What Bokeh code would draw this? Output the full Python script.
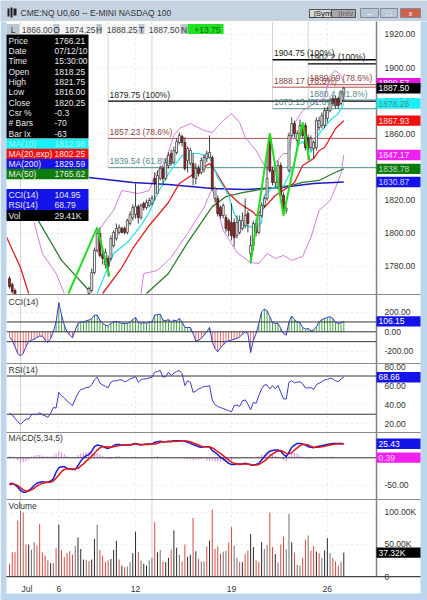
from bokeh.plotting import figure
from bokeh.layouts import column
from bokeh.models import Range1d, FixedTicker, PrintfTickFormatter
from bokeh.core.properties import value
from bokeh.embed import file_html
from bokeh.resources import INLINE

# ---------- chart data ----------
candle_bars = [0, 1, 2] + list(range(29, 123))
c_open = [1772.6,1768.9,1765.3,
 1763.5,1765.3,1776.2,1789.5,1799.8,1787.1,1781,1784.7,1784.7,1792.5,1796.7,1800.4,1802.8,1802.8,1800.4,1805.8,1809.4,1811.2,1816,1809.4,1817.9,1815.5,1816.7,1817.9,1833,1824,1833,1839,1833,1840.8,1848.1,1842.7,1848.7,1854.7,1858.4,1854.7,1843.9,1842.1,1842.1,1833,1839,1836.6,1838.4,1845.1,1845.7,1845.7,1820.9,1820.9,1815.5,1810.6,1809.4,1807.6,1806.4,1806.4,1798.5,1800.4,1802.8,1804.6,1811.8,1787.7,1792.5,1805.8,1800.4,1810.6,1816.7,1820.9,1857.8,1837.8,1830.6,1827.5,1840.8,1822.7,1813.7,1837.8,1859,1866.2,1856,1860.2,1865,1865,1857.8,1851.7,1851.1,1851.7,1863.8,1865,1865,1869.2,1874.1,1881.3,1881.3,1881.3,1878.3,1884.3]
c_high = [1773.8,1770.1,1766.5,
 1767.7,1778.6,1791.3,1802.2,1803.4,1789.5,1790.7,1786.5,1798.5,1801.6,1805.8,1805.2,1804,1804,1808.8,1813.1,1817.3,1830,1817.3,1817.9,1819.1,1820.3,1821.5,1822.7,1836.6,1837.8,1840.8,1840.8,1845.1,1848.7,1850.5,1852.3,1857.2,1860.8,1859.6,1857.8,1852.3,1851.7,1848.1,1842.1,1840.8,1845.7,1847.5,1849.9,1859,1846.9,1828.1,1822.7,1816.7,1817.9,1811.2,1808.8,1817.9,1808.8,1810.6,1810.6,1812.5,1820.9,1813.7,1798.5,1807.6,1808.8,1812.5,1818.5,1822.1,1849.9,1860.2,1839.9,1840.8,1843.9,1842.7,1824.5,1816.1,1860.8,1869.9,1868,1862,1868.6,1866.8,1866.8,1859.6,1859,1855.9,1869.9,1870.4,1872.9,1875.9,1876.5,1881.9,1883.1,1883.1,1882.5,1886.2,1888.25]
c_low = [1766.5,1763.5,1758.7,
 1762.3,1764.1,1775,1788.3,1785.3,1781,1778.6,1773.8,1783.5,1791.3,1795.5,1799.2,1799.8,1799.2,1799.2,1804.6,1807.6,1808.8,1805.8,1808.2,1813.7,1814.3,1815.5,1816.7,1819.7,1824,1831.8,1828.8,1831.8,1839,1840.8,1841.5,1847.5,1853.5,1852.3,1837.8,1836.6,1840.8,1828.8,1829.4,1834.2,1835.4,1836.6,1842.7,1845.1,1825.7,1818.5,1810,1808.8,1808.8,1800.4,1798,1795.5,1791.9,1796.7,1799.2,1801.6,1802.8,1800.4,1781.6,1789.5,1798,1799.2,1809.4,1815.5,1819.7,1836.6,1828.8,1827.5,1826.3,1821.5,1810.6,1811.8,1836.6,1857.8,1857.8,1852.9,1857.8,1857.2,1849.9,1843.9,1849.9,1845.1,1849.9,1862,1863.2,1863.2,1866.8,1872.9,1876.5,1875.3,1875.3,1877.1,1880.1]
c_close = [1767.7,1764.7,1759.9,
 1766.5,1776.2,1789.5,1799.8,1786.5,1784.7,1788.3,1779.8,1796.7,1800.4,1802.8,1803.4,1800.4,1800.4,1807.6,1811.2,1815.5,1816,1809.4,1816.7,1815.5,1818.5,1819.7,1820.9,1830.6,1834.8,1839,1833,1842.7,1846.9,1842.1,1849.9,1855.3,1859,1854.7,1839,1851.1,1849.9,1833.6,1839,1836,1843.9,1845.7,1848.1,1848.7,1827,1827,1811.8,1810.6,1816.7,1802.8,1801.6,1798.5,1797.3,1806.4,1807.6,1807.6,1810.6,1805.8,1792.5,1805.8,1800.4,1810.6,1816.7,1820.9,1833,1837.8,1830.6,1839,1840.8,1822.7,1814.9,1814.9,1859,1866.2,1860.2,1860.2,1865,1859,1851.7,1851.1,1857.2,1854.7,1868,1868,1871,1874.1,1874.1,1880.1,1878.3,1877.1,1877.1,1885,1887.5]

ma10_bars = [32,38,43,48,51,54,58,63,66,69,71,73,76,80,82,84,85,90,92,93,96,100,104,105,107,110,113,117,120,122]
ma10_vals = [1763.5,1787.7,1794.3,1804.6,1812.5,1823.9,1836,1846.9,1848.1,1848.1,1846.9,1845.7,1833.6,1822.7,1811.8,1806.4,1805.2,1802.8,1806.4,1822.7,1827.5,1828.1,1842.1,1852.9,1855.3,1848.7,1860.2,1868,1872.2,1878.28]
ma20_old_bars = [-1,4,7]
ma20_old_vals = [1797.3,1779.2,1763.5]
ma20_bars = [34,41,45,51,58,62,68,73,75,80,84,89,90,93,97,101,104,107,111,113,115,119,122]
ma20_vals = [1763.5,1779.2,1790.7,1804.6,1818.5,1830,1836.6,1842.1,1837.8,1823.9,1817.9,1812.5,1810.6,1815.5,1822.7,1827,1830.6,1840.8,1845.1,1849.9,1851.7,1863.2,1867.93]
ma50_old_bars = [9,19,29]
ma50_old_vals = [1811.8,1783.5,1765.3]
ma50_bars = [50,58,65,74,79,85,94,103,107,113,118,122]
ma50_vals = [1763.5,1775.6,1794.3,1816,1822.1,1824.5,1827,1828.8,1830.6,1831.8,1836,1838.78]
ma200_bars = [29,45,58,74,86,99,111,122]
ma200_vals = [1833.6,1830.6,1829.4,1827,1826.3,1827.5,1830,1830.87]
bb_up_old_bars = [9,12,17,20]
bb_up_old_vals = [1806.4,1787.7,1775.6,1763.5]
bb_up_bars = [33,38,41,47,51,53,57,60,62,66,71,74,78,81,84,86,90,93,95,97,100,102,104,107,115,117,119,121,122]
bb_up_vals = [1802.8,1813.7,1825.7,1823.9,1825.7,1834.8,1843.9,1859,1863.2,1866.2,1862,1860.8,1868,1872.2,1866.8,1857.8,1849.9,1840.8,1837.2,1842.1,1848.1,1848.1,1866.2,1874.1,1881.9,1895.2,1898.2,1895.2,1890.57]
bb_lo_bars = [48,49,54,59,65,71,74,78,81,83,88,91,94,97,100,103,107,110,113,117,119,121,122]
bb_lo_vals = [1763.5,1775.6,1777.4,1785.3,1799.8,1815.5,1827,1801.6,1793.7,1788.3,1782.2,1781.6,1787.7,1784.7,1786.5,1783.5,1785.9,1797.3,1813.7,1819.7,1827.5,1836,1847.17]
zig_a_bars = [21.5,32,36.5]
zig_a_vals = [1763.5,1803.4,1773.8]
zig_b_bars = [88,95,100,107,109.5]
zig_b_vals = [1782.2,1860.2,1810.6,1866.8,1843.9]

fib_bars = [36,36,36,96,96,96,109,109,109]
fib_vals = [1879.75,1857.23,1839.54,1904.75,1888.17,1875.15,1902.2,1889.69,1880.4]
fib_pcts = ["100%","78.6%","61.8%"]*3
fib_kinds = [0,1,2]*3

volume = [19.8,38,38,87.4,103,100,50,50,41.6,53.6,
 48.4,82,38,32.8,25,20.8,20.8,44,81,41.6,
 30,37,39.5,34,48,61,43,26.5,26,24,
 26.5,59,81,41.6,32.8,22.4,25,27.5,41.6,56,
 26.5,17,14.5,15.6,22.4,36.4,70,38,25,19.8,
 17,25,29,85,38,41.6,23.4,22.4,29,41.6,
 72,45,33.8,23.4,50,31,34,91.5,39.5,27.5,
 23.4,23.4,47,56,104.5,43,47,36,39,40,
 53,77,48,29,22.4,22.4,35,40.5,66.5,46,
 25,22.4,53.6,43,49,100,46,35,22,50,
 62.4,43,98,53.6,37,18,17,29,57.7,64,
 40.5,47.8,39,36.4,29,41,60,36.4,29,23.4,
 17,23.4,37.32]
vol_kind = ("rrrrgrrkgg" "rrrrrkgrkr" "rrrrgkkkgr" "kkgrrrrkkk" "rkrggkkrgk" "kggrkgrkkr"
            "kkgrrkkrkr" "ggrkrrrrgg" "rrggrkrrkk" "rrkggrrkgr" "rggkrggrrg" "rrkrgkkgrr" "rgk")

cci = [-50,-85,-152,-220,-244,-220,-152,-100,-85,-75,
 -58,-44,-44,-85,-108,-68,0,100,295,170,
 68,0,-34,-60,17,85,100,100,112,119,
 135,170,170,119,85,68,58,85,100,105,
 100,85,85,85,100,125,146,95,85,95,
 85,100,100,170,176,180,119,112,125,100,
 119,112,135,100,44,44,44,-17,-92,-85,
 -68,-34,0,44,-100,-170,-203,-160,-135,-100,
 -92,-85,-75,-68,-51,-27,0,-17,-210,-85,
 -17,85,203,230,214,153,95,85,85,34,
 -17,-34,100,160,125,100,92,44,27,34,
 10,17,51,100,125,135,146,153,135,95,
 85,92,106.15]
rsi = [31,29.5,25.6,22.4,19.6,22,25,25,29.5,30,
 29.5,31.6,29.5,28.4,26.7,31,37,36.5,53,49.5,
 47,44,41.4,39,46,52,55.8,56.5,58,58,
 61,66,68.8,62.5,60.7,59.3,57.5,63.5,65,65,
 66,66,63.9,65,67,68,69.5,63.5,66,67,
 67,68,68.8,74,74.7,75.8,68.8,69.5,74,70.5,
 73,74.7,75.8,72.3,60,65,63.5,53,54,56.5,
 57.5,59.3,59,60,45,40,38,37,36,34.7,
 33.7,32.6,39,39.6,38.2,44,45,40.7,34.7,42.4,
 41.4,49.5,56.5,60.7,60.7,56.5,60,56.5,60,53,
 46,46,63.5,65,62.8,63.5,64,61.8,57.5,57.5,
 58,56,61,62.5,64,66,66.3,67.7,67,65,
 64,67,68.66]
macd_fast = [-47,-46,-49,-53,-59,-62,-62,-59,-55,-50,
 -46,-44,-43,-44,-44,-42,-38,-26,-18,-16,
 -16,-19,-20,-21,-21,-14,-6,0,4,6,
 12,20,23,22,21,18,17,19,22,24,
 24,23,23,23,23,25,26,24,23,24,
 25,25,25,28,29,30,29,29,30,30,
 31,31,31,31,30,28,26,24,22,20,
 19,20,20,20,13,10,6,1,-2,-6,
 -10,-12,-12,-11,-11,-11,-10,-11,-13,-13,
 -12,-10,-4,2,8,12,13,14,14,12,
 6,2,10,19,23,26,26,25,23,20,
 19,18,20,21,22,23,24,25,26,26,
 26,26,25.43]
macd_signal = [-49,-47,-48,-50,-54,-58,-60,-60,-58,-55,
 -51,-48,-46,-45,-44,-44,-42,-37,-31,-25,
 -21,-20,-20,-20,-20,-19,-15,-11,-6,-2,
 3,8,14,18,20,20,20,19,20,21,
 22,23,23,23,23,24,25,25,24,24,
 24,24,25,25,26,28,29,29,29,29,
 30,30,30,31,31,30,29,27,25,23,
 21,20,20,20,18,15,11,8,4,0,
 -4,-8,-10,-11,-12,-11,-11,-11,-12,-13,
 -13,-12,-9,-6,-2,3,7,10,12,13,
 11,8,7,9,14,18,22,24,24,23,
 21,19,19,19,20,21,22,23,24,25,
 25,25,25]
macd_hist = [3,2,2,-4,-8,-8,-6,-3,2,4,
 5,5,4,3,3,2,4,8,12,10,
 6,3,1,1,-1,5,8,9,10,10,
 9,10,9,6,3,0,-2,-2,1,3,
 3,2,1,0,1,2,2,-1,-1,0,
 1,1,1,2,3,2,1,1,1,1,
 1,1,1,-1,-2,-3,-3,-4,-3,-3,
 -2,-1,-5,-5,-5,-7,-6,-7,-6,-8,
 -7,-6,-2,-1,-1,0,1,0,-1,0,
 1,3,5,6,8,9,6,4,2,1,
 -4,-6,3,10,9,8,4,1,-1,-3,
 -2,-1,1,2,2,2,2,2,2,1,
 1,1,0.39]

date_bars = [18, 46, 81, 116]
date_labels = ["6", "12", "19", "26"]
price_ticks = [1780, 1800, 1820, 1840, 1860, 1880, 1900, 1920]
cci_ticks = [-200, 0, 200]
rsi_ticks = [20, 40, 60, 80]
macd_ticks = [-50, 0]
vol_ticks = [0, 50, 100]
vol_tick_labels = ["0", "50.00K", "100.00K"]

title_text = "CME:NQ U0,60 -- E-MINI NASDAQ 100"
quote_names = ["L", "O", "H", "T", "N"]
quote_values = ["1866.00", "1874.25", "1888.25", "1887.50", "+13.75"]
info_names = ["Price","Date","Time","Open","High","Low","Close","Csr %","# Bars","Bar Ix"]
info_values = ["1766.21","07/12/10","15:30:00","1818.25","1821.75","1816.00","1820.25","-0.3","-70","-63"]
ma_names = ["MA(10)","MA(20,exp)","MA(200)","MA(50)"]
ma_values = ["1812.98","1802.25","1829.59","1765.62"]
osc_names = ["CCI(14)","RSI(14)","Vol"]
osc_values = ["104.95","68.79","29.41K"]

price_tags = [(1890.57,"1890.57","#e812e8","#ffffff"),(1887.50,"1887.50","#000000","#ffffff"),
              (1878.28,"1878.28","#19f0f5","#5a8a90"),(1867.93,"1867.93","#f01010","#ffe0e0"),
              (1847.17,"1847.17","#f020f0","#ffe0ff"),(1838.78,"1838.78","#0c7c0c","#c0d8c0"),
              (1830.87,"1830.87","#1414e8","#d0d0ff")]

# ---------- look and layout ----------
FONT = "Liberation Sans"
FS = "8.5px"
W = 427
LEFT_PAD = 6
RIGHT_PAD = 51
FRAME = "#bcd6ee"
SEP = "#8a8a8a"
X0, X1 = -1.095, 133.94
XR = Range1d(X0, X1)

def pane(height, y_top, y_bot, ticks, fmt="%.2f", bottom=0):
    p = figure(width=W, height=height, x_range=XR, y_range=Range1d(y_bot, y_top),
               output_backend="svg", toolbar_location=None, y_axis_location="right",
               min_border_left=LEFT_PAD, min_border_top=0, min_border_right=RIGHT_PAD,
               min_border_bottom=bottom, background_fill_color="white",
               border_fill_color="white", outline_line_color=None)
    ax = p.yaxis[0]
    ax.ticker = FixedTicker(ticks=ticks)
    ax.formatter = PrintfTickFormatter(format=fmt)
    ax.major_tick_line_color = None
    ax.minor_tick_line_color = None
    ax.axis_line_color = "#808080"
    ax.axis_line_width = 1.5
    ax.major_label_standoff = 2
    ax.major_label_text_font = FONT
    ax.major_label_text_font_size = FS
    ax.major_label_text_color = "#333333"
    p.xgrid.ticker = FixedTicker(ticks=date_bars)
    p.ygrid.ticker = FixedTicker(ticks=ticks)
    for g in (p.xgrid, p.ygrid):
        g.grid_line_color = "#d8d8d8"
        g.grid_line_dash = "1 4"
    if bottom == 0:
        p.xaxis.visible = False
    p.segment(x0=[4, 52], y0=[y_bot]*2, x1=[4, 52], y1=[y_top]*2, line_color="#d4d4d4", line_width=1)
    return p

# ---------- title strip ----------
chrome = figure(width=W, height=21, x_range=Range1d(0, 427), y_range=Range1d(21, 0),
                output_backend="svg", toolbar_location=None, x_axis_location=None, y_axis_location=None,
                min_border=0, frame_width=W, frame_height=21,
                background_fill_color="#ccd8e5", border_fill_color="#ccd8e5", outline_line_color=None)
chrome.grid.visible = False
chrome.quad(left=[0], right=[427], top=[0], bottom=[21], fill_color="#c5d2e0", line_color=None)
chrome.quad(left=[7,10,13], right=[9,12,16], top=[8,7,8], bottom=[16,17,15], fill_color="#222222", line_color=None)
chrome.text(x=[20], y=[12.5], text=[title_text], text_font=value(FONT), text_font_size="8.5px",
            text_color="#333333", text_baseline="middle")
chrome.quad(left=[309,331], right=[331,355], top=[9,9], bottom=[17,17], fill_color=["#d8d8d8","#a8a8a8"], line_color="#555555")
chrome.text(x=[320,343], y=[13,13], text=["_|Sym","_|Intv"], text_font=value(FONT), text_font_size="8px",
            text_color=["#111111","#666666"], text_baseline="middle", text_align="center")
chrome.quad(left=[360,380,400], right=[378,397,420], top=[8,8,8], bottom=[17,17,17],
            fill_color=["#b8c6d6","#b8c6d6","#d0604a"], line_color="#7f8c99")
chrome.text(x=[369,388.5,410], y=[13,13,12.5], text=["–","□","x"], text_font=value(FONT), text_font_size="8px",
            text_color=["#ffffff","#ffffff","#ffffff"], text_baseline="middle", text_align="center")

# ---------- price pane ----------
P_TOP, P_BOT = 1927.85, 1762.9
P_H = 273
p1 = pane(P_H, P_TOP, P_BOT, price_ticks)

fib_line = ["#000000", "#b05050", "#4f8f8f"]
fib_text = ["#222222", "#8c4646", "#558a8a"]
fib_width = [1.3, 1, 1]
low_by_anchor = {36: 1839.54, 96: 1875.15, 109: 1880.4}
for b, v in low_by_anchor.items():
    p1.segment(x0=[b], y0=[v], x1=[b], y1=[P_TOP], line_color="#d4d4d4", line_width=1)
for b, v, k in zip(fib_bars, fib_vals, fib_kinds):
    p1.segment(x0=[b], y0=[v], x1=[X1], y1=[v], line_color=fib_line[k], line_width=fib_width[k])

for bars, vals in ((bb_up_old_bars, bb_up_old_vals), (bb_up_bars, bb_up_vals), (bb_lo_bars, bb_lo_vals)):
    p1.line(bars, vals, line_color="#d070d8", line_width=0.9)
p1.line(ma200_bars, ma200_vals, line_color="#1c1cc0", line_width=1.5)
for bars, vals in ((ma50_old_bars, ma50_old_vals), (ma50_bars, ma50_vals)):
    p1.line(bars, vals, line_color="#2f7a2f", line_width=1.3)
for bars, vals in ((ma20_old_bars, ma20_old_vals), (ma20_bars, ma20_vals)):
    p1.line(bars, vals, line_color="#e02020", line_width=1.3)
p1.line(ma10_bars, ma10_vals, line_color="#22e0ea", line_width=1.2)

is_up = [c >= o for o, c in zip(c_open, c_close)]
p1.segment(x0=candle_bars, y0=c_low, x1=candle_bars, y1=c_high, line_color="#111111", line_width=0.8)
p1.vbar(x=candle_bars, width=0.72, top=c_open, bottom=c_close,
        fill_color=["#ffffff" if u else "#b01a1a" for u in is_up], line_color="#222222", line_width=0.7)

for bars, vals in ((zig_a_bars, zig_a_vals), (zig_b_bars, zig_b_vals)):
    p1.line(bars, vals, line_color="#22dd22", line_width=2)

for b, v, pct, k in zip(fib_bars, fib_vals, fib_pcts, fib_kinds):
    p1.text(x=[b + 0.5], y=[v + 0.9], text=[f"{v:.2f} ({pct})" if b != 109 or k == 1 else f"{v:.1f} ({pct})"],
            text_font=value(FONT), text_font_size=FS, text_color=fib_text[k], text_baseline="bottom")

# ---------- CCI ----------
C_TOP, C_BOT = 379, -322
C_H = 69
p2 = pane(C_H, C_TOP, C_BOT, cci_ticks)
bars_all = list(range(len(cci)))
p2.segment(x0=bars_all, y0=[0]*len(cci), x1=bars_all, y1=cci,
           line_color=["#2f9a2f" if v >= 0 else "#e05a5a" for v in cci], line_width=0.9)
for lv in (100, 0, -100):
    p2.segment(x0=[X0], y0=[lv], x1=[X1], y1=[lv], line_color="#333333", line_width=1)
p2.line(bars_all, cci, line_color="#3a3ac8", line_width=1)

# ---------- RSI ----------
R_TOP, R_BOT = 83.1, 10.9
R_H = 69
p3 = pane(R_H, R_TOP, R_BOT, rsi_ticks)
for lv in (70, 30):
    p3.segment(x0=[X0], y0=[lv], x1=[X1], y1=[lv], line_color="#333333", line_width=1)
p3.line(list(range(len(rsi))), rsi, line_color="#3a3ac8", line_width=1)

# ---------- MACD ----------
M_TOP, M_BOT = 45.7, -75.3
M_H = 67
p4 = pane(M_H, M_TOP, M_BOT, macd_ticks)
hb = list(range(len(macd_hist)))
p4.segment(x0=hb, y0=[0]*len(hb), x1=hb, y1=macd_hist, line_color="#e070e0", line_width=0.9)
p4.segment(x0=[X0], y0=[0], x1=[X1], y1=[0], line_color="#333333", line_width=1)
p4.line(list(range(len(macd_fast))), macd_fast, line_color="#1a1ad0", line_width=1.5)
p4.line(list(range(len(macd_signal))), macd_signal, line_color="#e01818", line_width=1.5)

# ---------- Volume ----------
V_TOP, V_BOT = 120.3, 0
V_H = 101
p5 = pane(V_H, V_TOP, V_BOT, vol_ticks, bottom=24)
p5.yaxis[0].major_label_overrides = {t: s for t, s in zip(vol_ticks, vol_tick_labels)}
kinds = {"r": "#d84a42", "k": "#2a2a2a", "g": "#707070"}
vb = list(range(len(volume)))
p5.segment(x0=vb, y0=[0]*len(vb), x1=vb, y1=volume,
           line_color=[kinds[k] for k in vol_kind], line_width=1)
xa = p5.xaxis[0]
xa.ticker = FixedTicker(ticks=date_bars)
xa.major_label_overrides = {b: s for b, s in zip(date_bars, date_labels)}
xa.major_tick_line_color = None
xa.minor_tick_line_color = None
xa.axis_line_color = "#444444"
xa.axis_line_width = 1.2
xa.major_label_standoff = 3
xa.major_label_text_font = FONT
xa.major_label_text_font_size = FS
xa.major_label_text_color = "#333333"

# ---------- window furniture over the panes (window pixel coordinates) ----------
ov = figure(width=W, height=600, x_range=Range1d(0, 427), y_range=Range1d(600, 0),
            output_backend="svg", toolbar_location=None, x_axis_location=None, y_axis_location=None,
            min_border=0, frame_width=W, frame_height=600,
            background_fill_color=None, border_fill_color=None, outline_line_color=None,
            styles={"margin-top": "-600px"})
ov.grid.visible = False

def rect(x0, x1, y0, y1, color):
    ov.quad(left=[x0], right=[x1], top=[y0], bottom=[y1], fill_color=color, line_color=None)

def txt(x, y, s, color="#333333", align="left"):
    ov.text(x=[x], y=[y], text=[s], text_font=value(FONT), text_font_size=FS, text_color=color,
            text_align=align, text_baseline="middle")

# frame and pane separators
rect(420, 427, 21, 600, FRAME)
rect(0, 427, 593, 600, FRAME)
rect(0, 6, 21, 600, FRAME)
for yy in (294, 363, 432, 499):
    rect(6, 420, yy - 0.6, yy + 0.6, SEP)
rect(6, 420, 575.5, 576.7, "#444444")

# quote strip
rect(6, 223, 23.5, 33.5, "#f4f4f4")
strip_x = [(6, 19, 52), (53, 59, 95), (96, 101, 137), (138, 144, 179), (180, 187, 223)]
for (a, b, c), n, v in zip(strip_x, quote_names, quote_values):
    rect(a, b, 23.5, 33.5, "#bcc6d0")
    txt((a + b) / 2, 29, n, align="center")
    if n == "N":
        rect(b, c, 23.5, 33.5, "#22e022")
        txt(c - 3, 29, v, color="#0a6a0a", align="right")
    else:
        txt(c, 29, v, color="#444444", align="right")

# information panel
rect(6, 88, 34, 138, "#000000")
rows = [40 + 10.35 * k for k in range(len(info_names))]
for yy, n, v in zip(rows, info_names, info_values):
    txt(8, yy, n, "#e8e8e8")
    txt(54, yy, v, "#e8e8e8")
ma_rows = [143.5, 153.5, 163.5, 173.5]
ma_colors = ["#19f0f5", "#f01010", "#1414e8", "#0c7c0c"]
for yy, n, v, col in zip(ma_rows, ma_names, ma_values, ma_colors):
    rect(6, 88, yy - 5.2, yy + 5.2, col)
    tc = "#a8f8f8" if col == "#19f0f5" else "#f2e8e8"
    txt(8, yy, n, tc)
    txt(54, yy, v, tc)
osc_rows = [194, 204.5, 215]
osc_colors = ["#1414e8", "#1414e8", "#000000"]
for yy, n, v, col in zip(osc_rows, osc_names, osc_values, osc_colors):
    rect(6, 88, yy - 5.4, yy + 5.4, col)
    txt(8, yy, n, "#e8e8e8")
    txt(54, yy, v, "#e8e8e8")

# pane names
for yy, n in ((301, "CCI(14)"), (369.5, "RSI(14)"), (437, "MACD(5,34,5)"), (505, "Volume")):
    txt(8, yy, n)
txt(21, 588, "Jul")

# last-value tags, placed through each pane's own scale
def tag(y, s, col, tc="#ffffff"):
    rect(376, 420, y - 5.2, y + 5.2, col)
    txt(378, y, s, tc)

for val, s, col, tc in price_tags:
    tag(21 + (P_TOP - val) * P_H / (P_TOP - P_BOT), s, col, tc)
tag(294 + (C_TOP - cci[-1]) * C_H / (C_TOP - C_BOT), "106.15", "#1414e8")
tag(363 + (R_TOP - rsi[-1]) * R_H / (R_TOP - R_BOT), "68.66", "#1414e8")
tag(432 + (M_TOP - macd_fast[-1]) * M_H / (M_TOP - M_BOT), "25.43", "#1414e8")
tag(432 + (M_TOP - macd_hist[-1]) * M_H / (M_TOP - M_BOT), "0.39", "#f020f0", "#ffd0ff")
tag(499 + (V_TOP - volume[-1]) * 77 / (V_TOP - V_BOT), "37.32K", "#000000")

page = column(column(chrome, spacing=0), column(p1, p2, p3, p4, p5, spacing=0), column(ov, spacing=0), spacing=0)
open("out.html", "w").write(file_html(page, INLINE))
